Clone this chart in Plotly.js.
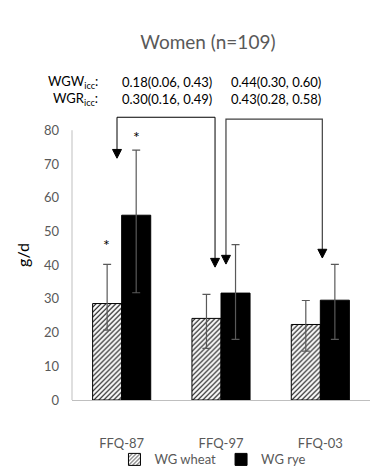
<!DOCTYPE html>
<html><head><meta charset="utf-8">
<script src="https://cdn.plot.ly/plotly-3.0.1.min.js"></script>
<style>html,body{margin:0;padding:0;background:#fff}#chart{width:376px;height:468px}</style>
</head><body><div id="chart"></div>
<script>
var categories = ['FFQ-87', 'FFQ-97', 'FFQ-03'];
var wheatMean = [28.6, 24.2, 22.4];
var wheatHigh = [40.2, 31.3, 29.5];
var wheatLow  = [20.7, 15.3, 14.5];
var ryeMean = [54.8, 31.7, 29.6];
var ryeHigh = [74.1, 46.1, 40.2];
var ryeLow  = [31.8, 18.0, 18.0];
var seriesNames = ['WG wheat', 'WG rye'];
var yTicks = [0, 10, 20, 30, 40, 50, 60, 70, 80];
var iccRowLabels = ['WGW<sub>icc</sub>:', 'WGR<sub>icc</sub>:'];
var iccCol1 = ['0.18(0.06, 0.43)', '0.30(0.16, 0.49)'];
var iccCol2 = ['0.44(0.30, 0.60)', '0.43(0.28, 0.58)'];

function diff(a, b) { return a.map(function (v, i) { return +(v - b[i]).toFixed(2); }); }

var gray = '#595959';
var axisGray = '#bfbfbf';
var errStyle = {type: 'data', symmetric: false, color: gray, thickness: 1.2, width: 4};

var traces = [
  {type: 'bar', name: seriesNames[0], x: categories, y: wheatMean,
   marker: {color: '#ffffff', line: {color: '#000', width: 1},
            pattern: {shape: '/', fgcolor: '#000', bgcolor: '#fff', size: 3.5, solidity: 0.3}},
   error_y: Object.assign({array: diff(wheatHigh, wheatMean), arrayminus: diff(wheatMean, wheatLow)}, errStyle)},
  {type: 'bar', name: seriesNames[1], x: categories, y: ryeMean,
   marker: {color: '#000', line: {color: '#000', width: 1}},
   error_y: Object.assign({array: diff(ryeHigh, ryeMean), arrayminus: diff(ryeMean, ryeLow)}, errStyle)}
];

var annotations = [];
for (var r = 0; r < 2; r++) {
  var yy = r === 0 ? 1.096 : 1.037;
  annotations.push({xref: 'paper', yref: 'paper', x: 0.094, y: yy, xanchor: 'right', yanchor: 'middle',
    text: iccRowLabels[r], showarrow: false, font: {size: 13, color: '#000'}});
  annotations.push({xref: 'paper', yref: 'paper', x: 0.319, y: yy, xanchor: 'center', yanchor: 'middle',
    text: iccCol1[r], showarrow: false, font: {size: 13, color: '#000'}});
  annotations.push({xref: 'paper', yref: 'paper', x: 0.685, y: yy, xanchor: 'center', yanchor: 'middle',
    text: iccCol2[r], showarrow: false, font: {size: 13, color: '#000'}});
}
annotations.push({x: -0.148, y: 46, text: '*', showarrow: false, font: {size: 16, color: '#000'}});
annotations.push({x: 0.148, y: 78, text: '*', showarrow: false, font: {size: 16, color: '#000'}});

function tri(x, yTip) {
  var hw = 0.045, h = 2.6;
  return {type: 'path', xref: 'x', yref: 'y', fillcolor: '#000', line: {color: '#000', width: 1},
    path: 'M' + (x - hw) + ',' + (yTip + h) + ' L' + (x + hw) + ',' + (yTip + h) + ' L' + x + ',' + yTip + ' Z'};
}
var shapes = [
  {type: 'line', xref: 'paper', yref: 'y', x0: 0, x1: 0, y0: 0, y1: 80, line: {color: axisGray, width: 1}},
  {type: 'path', xref: 'x', yref: 'y', line: {color: '#000', width: 1},
   path: 'M-0.047,74 L-0.047,83.85 L0.94,83.85 L0.94,41.5'},
  {type: 'path', xref: 'x', yref: 'y', line: {color: '#404040', width: 1.2},
   path: 'M1.05,42.5 L1.05,83.3 L2.02,83.3 L2.02,44.5'},
  tri(-0.047, 71.7), tri(0.94, 39.4), tri(1.05, 40.3), tri(2.02, 42.1)
];

var layout = {
  width: 376, height: 468,
  margin: {l: 72, r: 6, t: 110, b: 68, autoexpand: false},
  paper_bgcolor: '#fff', plot_bgcolor: '#fff',
  font: {family: 'Lato, "Open Sans", sans-serif', color: gray, size: 13},
  title: {text: 'Women (n=109)', x: 0.553, xref: 'container', y: 0.91, yref: 'container', yanchor: 'middle',
          font: {size: 19, color: gray}, automargin: false},
  barmode: 'group', bargap: 0.415, bargroupgap: 0,
  xaxis: {type: 'category', showline: true, linecolor: axisGray, linewidth: 1, ticks: '', automargin: false,
          ticklabelstandoff: 31, tickfont: {size: 13, color: gray}, showgrid: false, zeroline: false, fixedrange: true},
  yaxis: {range: [0, 86], tickvals: yTicks, ticktext: yTicks.map(String), showline: false, showgrid: false, automargin: false,
          zeroline: false, ticks: '', ticklabelstandoff: 12, tickfont: {size: 13, color: gray},
          title: {text: 'g/d', font: {size: 16, color: '#000'}, standoff: 10}, fixedrange: true},
  legend: {orientation: 'h', x: 0.473, xanchor: 'center', y: -0.205, yanchor: 'middle', bgcolor: 'rgba(0,0,0,0)',
           font: {size: 13, color: gray}, itemwidth: 30, tracegroupgap: 0},
  showlegend: true,
  annotations: annotations,
  shapes: shapes
};
Plotly.newPlot('chart', traces, layout, {displayModeBar: false, staticPlot: true});
</script></body></html>
